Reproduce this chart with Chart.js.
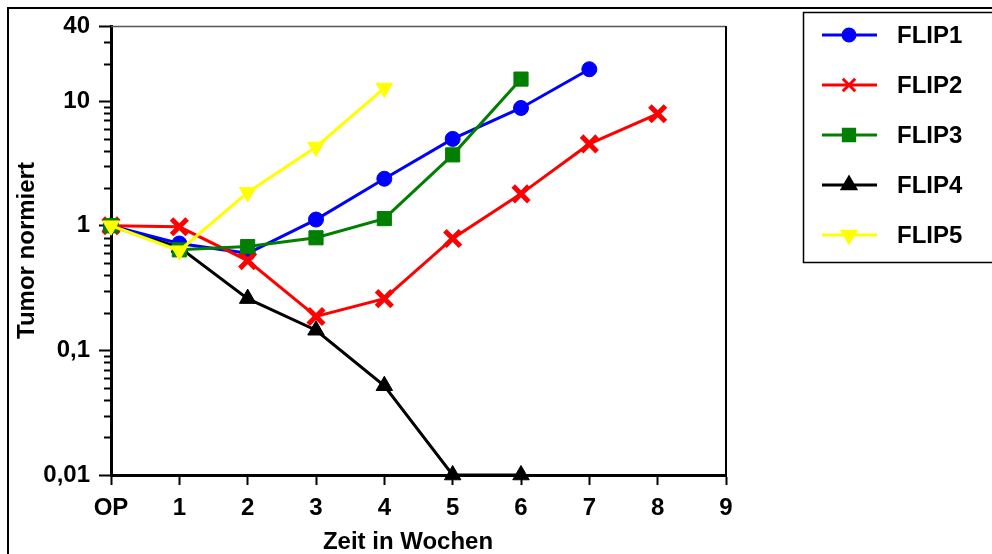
<!DOCTYPE html>
<html>
<head>
<meta charset="utf-8">
<script src="https://cdn.jsdelivr.net/npm/chart.js@4.4.1/dist/chart.umd.min.js"></script>
<style>
body{margin:0;background:#fff}
</style>
</head>
<body>
<canvas id="tumorChart" width="992" height="554"></canvas>
<script>
// x = weeks after OP, y = normalised tumour size (log)
const xLabels = ['OP','1','2','3','4','5','6','7','8','9'];
const xTitle = 'Zeit in Wochen';
const yTicks = [0.01, 0.1, 1, 10, 40];
const yLabels = ['0,01', '0,1', '1', '10', '40'];
const minorTicks = [0.02,0.03,0.04,0.05,0.06,0.07,0.08,0.09,
                    0.2,0.3,0.4,0.5,0.6,0.7,0.8,0.9,
                    2,3,4,5,6,7,8,9,20,30];

const seriesNames = ['FLIP1','FLIP2','FLIP3','FLIP4','FLIP5'];
const flip1 = [1, 0.72, 0.60, 1.12, 2.38, 4.97, 8.8, 18.0];
const flip2 = [1, 0.98, 0.525, 0.187, 0.26, 0.79, 1.80, 4.53, 7.9];
const flip3 = [1, 0.64, 0.68, 0.80, 1.14, 3.70, 15.0];
const flip4 = [1, 0.67, 0.26, 0.145, 0.052, 0.01, 0.01];
const flip5 = [1, 0.63, 1.85, 4.28, 12.7];

const FONT = "'Liberation Sans', Arial, sans-serif";
Chart.defaults.font.family = FONT;
Chart.defaults.font.size = 24;
Chart.defaults.font.weight = 'bold';
Chart.defaults.color = '#000';

function pts(arr){
  return arr.map((v,i) => ({x:i, y:v}));
}

function mk(label, arr, color, style, radius, rot, order, bw){
  return {
    label: label,
    data: pts(arr),
    borderColor: color,
    backgroundColor: color,
    borderWidth: 3,
    tension: 0,
    pointStyle: style,
    pointRadius: radius,
    pointRotation: rot,
    pointBorderWidth: bw,
    pointBackgroundColor: color,
    pointBorderColor: color,
    order: order,
    clip: false
  };
}

const frame = {
  id: 'frame',
  beforeDraw(chart){
    const c = chart.ctx;
    c.save();
    c.fillStyle = '#fff';
    c.fillRect(0,0,chart.width,chart.height);
    c.strokeStyle = '#000';
    c.lineWidth = 2;
    c.beginPath();
    c.moveTo(8, 560); c.lineTo(8, 8); c.lineTo(1000, 8);
    c.stroke();
    c.restore();
  },
  beforeDatasetsDraw(chart){
    const c = chart.ctx, a = chart.chartArea;
    c.save();
    c.strokeStyle = '#555';
    c.lineWidth = 1.5;
    c.beginPath();
    c.moveTo(a.left, a.top + 0.5); c.lineTo(a.right, a.top + 0.5);
    c.stroke();
    c.strokeStyle = '#000';
    c.lineWidth = 2;
    c.beginPath();
    c.moveTo(a.right, a.top); c.lineTo(a.right, a.bottom);
    c.stroke();
    // minor ticks on the log axis
    const ys = chart.scales.y;
    c.lineWidth = 2;
    c.beginPath();
    minorTicks.forEach(v => {
      const y = Math.round(ys.getPixelForValue(v)) + 0.5;
      c.moveTo(a.left - 7, y); c.lineTo(a.left, y);
    });
    c.stroke();
    // x axis title
    c.fillStyle = '#000';
    c.font = 'bold 24px ' + FONT;
    c.textAlign = 'center';
    c.textBaseline = 'alphabetic';
    c.fillText(xTitle, 408, 549);
    c.restore();
  },
  afterDraw(chart){
    const c = chart.ctx;
    c.save();
    c.strokeStyle = '#000';
    c.lineWidth = 1.5;
    c.strokeRect(803.5, 12.5, 200, 250);
    c.font = 'bold 24px ' + FONT;
    c.textBaseline = 'middle';
    chart.data.datasets.forEach((ds, i) => {
      const y = 35 + i * 50;
      c.strokeStyle = ds.borderColor;
      c.lineWidth = 3;
      c.beginPath(); c.moveTo(822, y); c.lineTo(877, y); c.stroke();
      c.fillStyle = ds.borderColor;
      Chart.helpers.drawPoint(c, {
        pointStyle: ds.pointStyle,
        radius: ds.pointRadius * 0.8,
        rotation: ds.pointRotation,
        borderWidth: ds.pointBorderWidth
      }, 849, y);
      c.fillStyle = '#000';
      c.fillText(ds.label, 897, y + 1);
    });
    c.restore();
  }
};

new Chart(document.getElementById('tumorChart'), {
  type: 'line',
  data: {
    datasets: [
      mk(seriesNames[0], flip1, '#0000ff', 'circle', 7.5, 0, 3, 1),
      mk(seriesNames[1], flip2, '#ff0000', 'crossRot', 11, 0, 2, 5),
      mk(seriesNames[2], flip3, '#007f00', 'rect', 10, 0, 1, 1),
      mk(seriesNames[3], flip4, '#000000', 'triangle', 9.5, 0, 4, 1),
      mk(seriesNames[4], flip5, '#ffff00', 'triangle', 9.5, 180, 0, 1)
    ]
  },
  options: {
    responsive: false,
    animation: false,
    layout: { padding: { left: 0, top: 26, right: 266, bottom: 0 } },
    plugins: { legend: { display: false }, tooltip: { enabled: false } },
    scales: {
      x: {
        type: 'linear',
        min: 0, max: 9,
        ticks: {
          stepSize: 1, padding: 9, maxRotation: 0, autoSkip: false,
          callback: v => xLabels[v]
        },
        grid: { drawOnChartArea: false, tickLength: 10, tickWidth: 2, color: '#000' },
        border: { width: 3, color: '#000' },
        afterFit: s => { s.height = 79; }
      },
      y: {
        type: 'logarithmic',
        min: 0.01, max: 40,
        afterBuildTicks: s => { s.ticks = yTicks.map(v => ({ value: v })); },
        ticks: {
          padding: 9, autoSkip: false,
          callback: v => yLabels[yTicks.indexOf(v)]
        },
        grid: { drawOnChartArea: false, tickLength: 12, tickWidth: 2, color: '#000' },
        border: { width: 3, color: '#000' },
        title: { display: true, text: 'Tumor normiert', padding: { top: 13, bottom: 0 } },
        afterFit: s => { s.width = 111; }
      }
    }
  },
  plugins: [frame]
});
</script>
</body>
</html>
